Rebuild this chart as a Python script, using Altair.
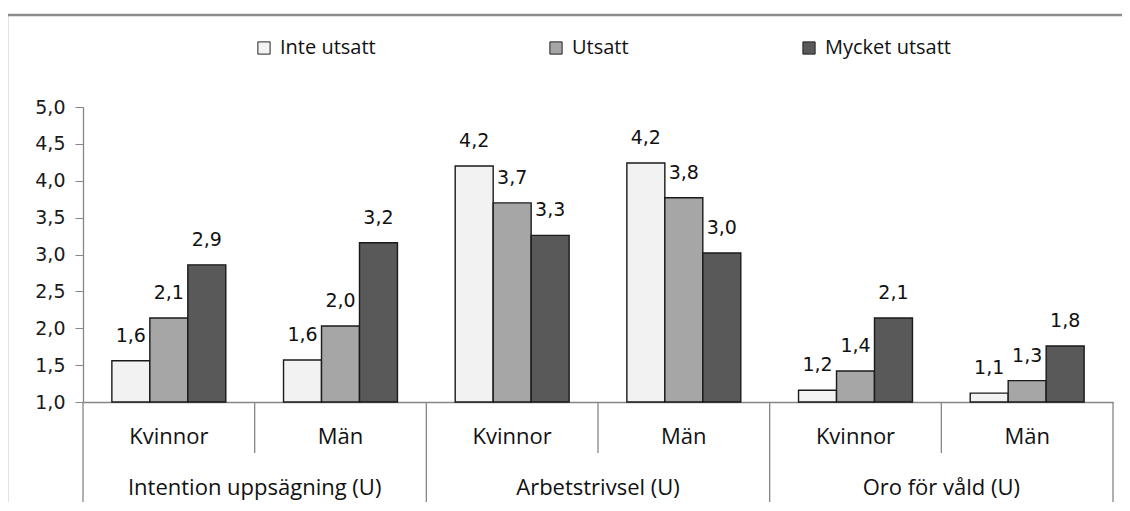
import altair as alt
import pandas as pd

groups = ["Intention uppsägning (U)", "Arbetstrivsel (U)", "Oro för våld (U)"]
genders = ["Kvinnor", "Män"]
series = ["Inte utsatt", "Utsatt", "Mycket utsatt"]

inte_utsatt = [1.56, 1.57, 4.20, 4.24, 1.16, 1.12]
utsatt = [2.14, 2.03, 3.70, 3.77, 1.42, 1.29]
mycket_utsatt = [2.86, 3.16, 3.26, 3.02, 2.14, 1.76]

colors = ["#F2F2F2", "#A6A6A6", "#595959"]
y_ticks = [1.0, 1.5, 2.0, 2.5, 3.0, 3.5, 4.0, 4.5, 5.0]

subs = [g + "|" + s for g in groups for s in genders]
rows = []
vals = {"Inte utsatt": inte_utsatt, "Utsatt": utsatt, "Mycket utsatt": mycket_utsatt}
for i, sub in enumerate(subs):
    g, s = sub.split("|")
    for ser in series:
        rows.append({"sub": sub, "group": g, "gender": s, "series": ser, "value": vals[ser][i]})
df = pd.DataFrame(rows)

sub_df = pd.DataFrame({"sub": subs, "group": [s.split("|")[0] for s in subs],
                       "gender": [s.split("|")[1] for s in subs]})

W, H = 1030, 295
xscale = alt.Scale(paddingInner=0, paddingOuter=0)
yscale = alt.Scale(domain=[1, 5], zero=False, nice=False)

AX = alt.Axis(labels=False, ticks=False, title=None, domainColor="#868686", domainWidth=1.3)
AY = alt.Axis(values=y_ticks, title=None, grid=False, tickSize=8,
              tickColor="#868686", domainColor="#868686", domainWidth=1.3,
              labelPadding=10, labelFont="DejaVu Sans", labelFontSize=19,
              labelColor="#1A1A1A", labelOverlap=False, labelFlush=False,
              labelExpr="replace(format(datum.value, '.1f'), '.', ',')")


def X(bp=None):
    if bp is None:
        return alt.X("sub:N", sort=subs, scale=xscale, axis=AX)
    return alt.X("sub:N", sort=subs, scale=xscale, axis=AX, bandPosition=bp)


XO = alt.XOffset("series:N", sort=series, scale=alt.Scale(paddingInner=0, paddingOuter=0.76))

frame = alt.Chart(pd.DataFrame({"a": [0]})).mark_rect(
    fill=None, stroke="#8C8C8C", strokeWidth=2.5
).encode(x=alt.value(-76), x2=alt.value(W + 40), y=alt.value(-92), y2=alt.value(H + 200))

bars = alt.Chart(df).mark_bar(stroke="#1A1A1A", strokeWidth=1.4).encode(
    x=X(),
    xOffset=XO,
    y=alt.Y("value:Q", scale=yscale, axis=AY),
    y2=alt.datum(1),
    color=alt.Color("series:N", sort=series, scale=alt.Scale(domain=series, range=colors),
                    legend=alt.Legend(title=None, orient="none", direction="horizontal",
                                      legendX=171, legendY=-69, symbolType="square",
                                      symbolSize=150, symbolStrokeColor="#222222",
                                      symbolStrokeWidth=1, labelFont="Open Sans",
                                      labelFontSize=20, labelColor="#111111",
                                      columnPadding=170, labelOffset=6, padding=0)),
)

labels = alt.Chart(df).transform_calculate(
    label="replace(format(datum.value, '.1f'), '.', ',')"
).mark_text(font="DejaVu Sans", fontSize=19, color="#111111", baseline="middle", dy=-25).encode(
    x=X(),
    xOffset=XO,
    y=alt.Y("value:Q", scale=yscale, axis=AY),
    text="label:N",
)

gender_div = alt.Chart(sub_df).transform_filter("datum.gender == 'Män'").mark_rule(
    color="#868686", strokeWidth=1.3
).encode(x=X(0), y=alt.value(H), y2=alt.value(H + 51))

cat_div = alt.Chart(sub_df).transform_filter("datum.gender == 'Kvinnor'").mark_rule(
    color="#868686", strokeWidth=1.3
).encode(x=X(0), y=alt.value(H), y2=alt.value(H + 103))

end_div = alt.Chart(sub_df).transform_filter(
    "datum.sub == '" + subs[-1] + "'"
).mark_rule(color="#868686", strokeWidth=1.3).encode(
    x=X(1), y=alt.value(H), y2=alt.value(H + 103))

gender_txt = alt.Chart(sub_df).mark_text(
    font="Open Sans", fontSize=22, color="#111111", baseline="middle"
).encode(x=X(0.5), y=alt.value(H + 35), text="gender:N")

cat_txt = alt.Chart(sub_df).transform_filter("datum.gender == 'Kvinnor'").mark_text(
    font="Open Sans", fontSize=22, color="#111111", baseline="middle"
).encode(x=X(1), y=alt.value(H + 86), text="group:N")

chart = alt.layer(frame, bars, labels, gender_div, cat_div, end_div, gender_txt, cat_txt).properties(
    width=W, height=H,
    autosize=alt.AutoSizeParams(type="none"),
    padding={"left": 75, "top": 99, "right": 9, "bottom": 100},
    background="white",
).configure_view(stroke=None)

chart.save("out.html", embed_options={"renderer": "svg", "actions": False})
